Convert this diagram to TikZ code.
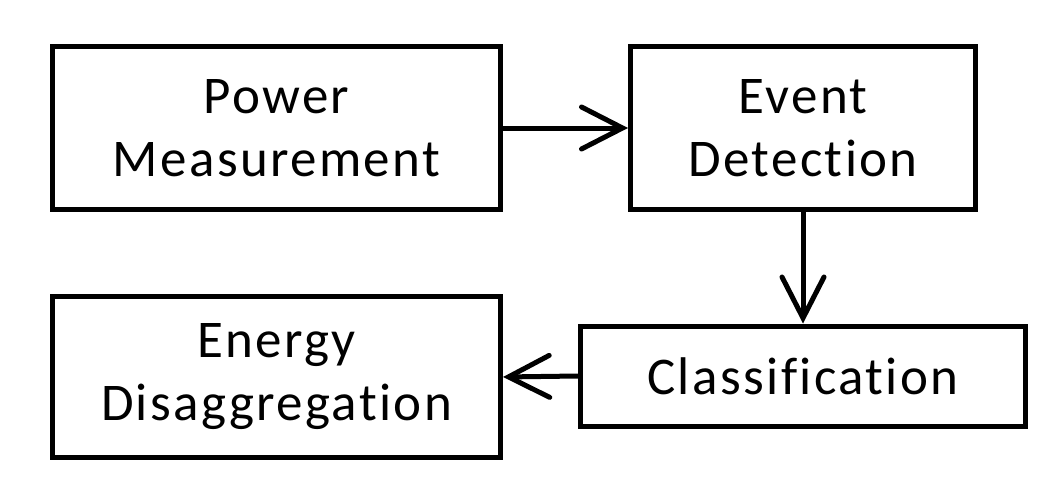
\documentclass[tikz,border=0pt]{standalone}
\usepackage{fontspec}
\setmainfont{Carlito}[Ligatures=NoCommon, LetterSpace=4.5]
\usetikzlibrary{arrows.meta}
\begin{document}
\begin{tikzpicture}[x=1pt,y=-1pt,
  blk/.style={draw=black, line width=5pt, fill=white, align=center, inner sep=0pt,
    font=\fontsize{53}{63}\selectfont},
  conn/.style={line width=5pt, -{Straight Barb[length=41pt,width=42pt,line width=5pt,line cap=round]}}]
\useasboundingbox[fill=white] (0,0) rectangle (1064,492);
\node[blk, minimum width=448pt, minimum height=163pt] (pm) at (276.5,128) {Power\\Measurement};
\node[blk, minimum width=345pt, minimum height=163pt] (ed) at (803,128) {Event\\Detection};
\node[blk, minimum width=445pt, minimum height=100pt] (cl) at (803,376) {Classification};
\node[blk, minimum width=448pt, minimum height=161pt] (en) at (276.5,377) {Energy\\Disaggregation};
\draw[conn] (pm.east) -- (ed.west);
\draw[conn] (ed.south) -- (cl.north);
\draw[conn] (cl.west) -- (en.east);
\end{tikzpicture}
\end{document}
